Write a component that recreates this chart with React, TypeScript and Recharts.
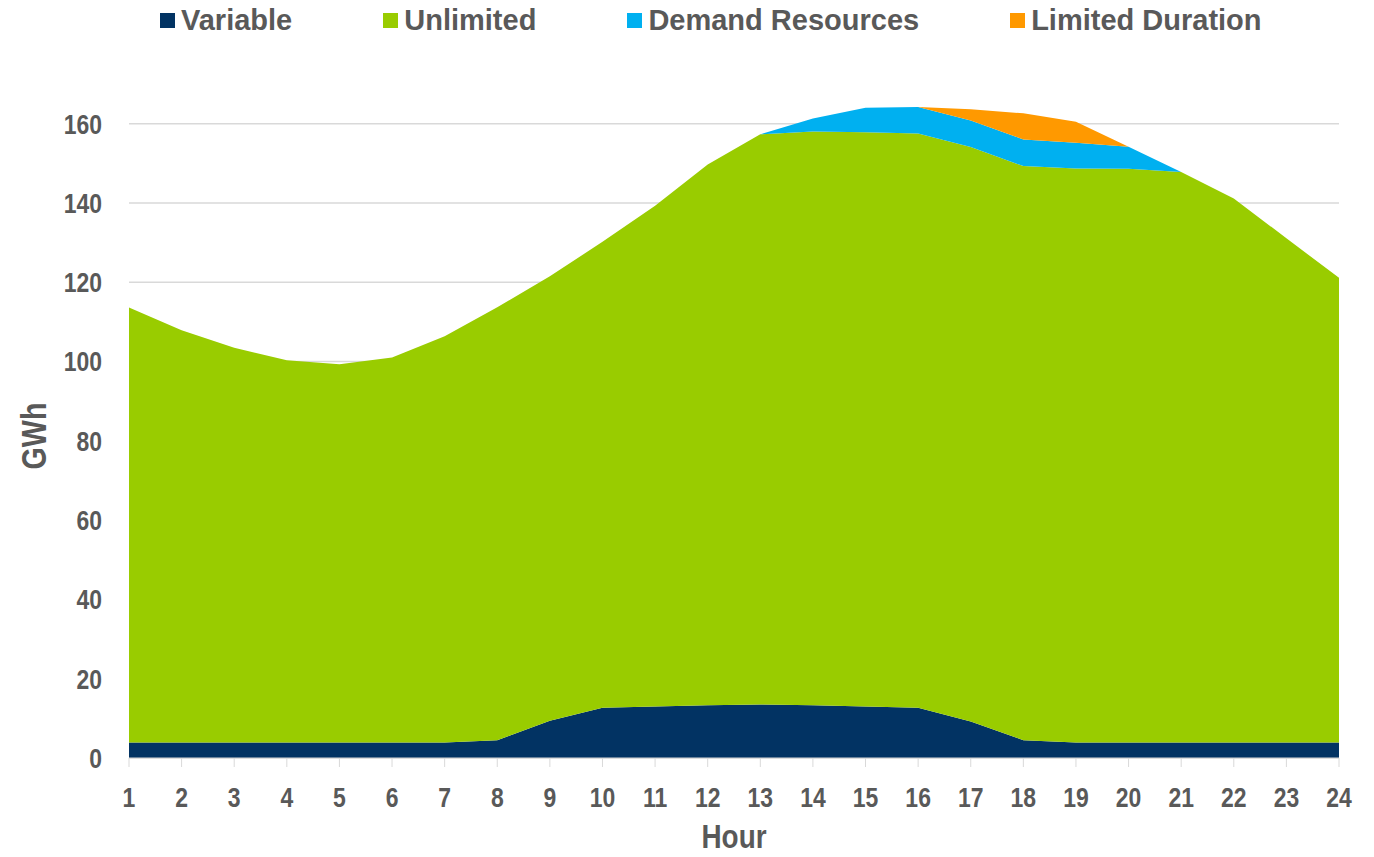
import React from 'react';
import { AreaChart, Area, XAxis, YAxis, CartesianGrid, Label } from 'recharts';

const hours = ['1', '2', '3', '4', '5', '6', '7', '8', '9', '10', '11', '12', '13', '14', '15', '16', '17', '18', '19', '20', '21', '22', '23', '24'];
const variable = [3.9, 3.9, 3.9, 3.9, 3.9, 3.9, 3.9, 4.5, 9.4, 12.7, 13.0, 13.3, 13.5, 13.3, 13.0, 12.7, 9.2, 4.5, 3.9, 3.9, 3.9, 3.9, 3.9, 3.9];
const unlimited = [109.7, 104.0, 99.6, 96.4, 95.4, 97.1, 102.5, 109.2, 112.1, 117.5, 126.3, 136.4, 143.8, 144.7, 144.8, 144.8, 144.9, 144.8, 144.8, 144.7, 143.9, 137.2, 127.2, 117.2];
const demandResources = [0, 0, 0, 0, 0, 0, 0, 0, 0, 0, 0, 0, 0, 3.3, 6.2, 6.7, 6.7, 6.7, 6.5, 5.6, 0, 0, 0, 0];
const limitedDuration = [0, 0, 0, 0, 0, 0, 0, 0, 0, 0, 0, 0, 0, 0, 0, 0, 2.8, 6.6, 5.3, 0, 0, 0, 0, 0];
const yTicks = [0, 20, 40, 60, 80, 100, 120, 140, 160];

const series = [
  { key: 'variable', name: 'Variable', color: '#023363' },
  { key: 'unlimited', name: 'Unlimited', color: '#99cc00' },
  { key: 'demand', name: 'Demand Resources', color: '#00b0f0' },
  { key: 'limited', name: 'Limited Duration', color: '#ff9900' },
];

const data = hours.map((hour, i) => ({
  hour,
  variable: variable[i],
  unlimited: unlimited[i],
  demand: demandResources[i],
  limited: limitedDuration[i],
}));

const TEXT = '#595959';
const FONT = "'Liberation Sans', Arial, sans-serif";
// no narrow font installed, so squeeze the bold face horizontally
const SQUEEZE = 0.82;

const XTick = ({ x, y, payload }: any) => (
  <g transform={`translate(${x},${y})`}>
    <text transform={`scale(${SQUEEZE},1)`} dy="0.71em" textAnchor="middle" fill={TEXT} fontSize={28} fontWeight="bold" fontFamily={FONT}>
      {payload.value}
    </text>
  </g>
);

const YTick = ({ x, y, payload }: any) => (
  <g transform={`translate(${x},${y})`}>
    <text transform={`scale(${SQUEEZE},1)`} dy="0.355em" textAnchor="end" fill={TEXT} fontSize={28} fontWeight="bold" fontFamily={FONT}>
      {payload.value}
    </text>
  </g>
);

export default function App() {
  return (
    <div style={{ position: 'relative', width: 1374, height: 857 }}>
      <style>{'body{margin:0}'}</style>
      <div
        style={{
          position: 'absolute',
          left: 160,
          top: 4,
          display: 'flex',
          gap: 91,
          fontFamily: FONT,
          fontWeight: 'bold',
          fontSize: 29,
          color: TEXT,
          zIndex: 1,
        }}
      >
        {series.map((s) => (
          <div key={s.key} style={{ display: 'flex', alignItems: 'center', gap: 6 }}>
            <span style={{ display: 'inline-block', width: 15, height: 15, background: s.color }} />
            <span>{s.name}</span>
          </div>
        ))}
      </div>
      <AreaChart width={1374} height={857} data={data} margin={{ top: 84, right: 35, left: 0, bottom: 0 }}>
        <CartesianGrid vertical={false} stroke="#d9d9d9" strokeWidth={1.5} syncWithTicks />
        <XAxis dataKey="hour" height={99} stroke="#d9d9d9" tickSize={9} tickMargin={20} tick={<XTick />} interval={0}>
          <Label
            content={() => (
              <g transform="translate(734,848)">
                <text transform={`scale(${SQUEEZE},1)`} textAnchor="middle" fill={TEXT} fontSize={34} fontWeight="bold" fontFamily={FONT}>
                  Hour
                </text>
              </g>
            )}
          />
        </XAxis>
        <YAxis
          width={129}
          domain={[0, 170]}
          ticks={yTicks}
          axisLine={false}
          tickLine={false}
          tickSize={0}
          tickMargin={27}
          tick={<YTick />}
        >
          <Label
            content={() => (
              <g transform="translate(34,436) rotate(-90)">
                <text
                  transform={`scale(${SQUEEZE},1)`}
                  textAnchor="middle"
                  dominantBaseline="central"
                  fill={TEXT}
                  fontSize={35}
                  fontWeight="bold"
                  fontFamily={FONT}
                >
                  GWh
                </text>
              </g>
            )}
          />
        </YAxis>
        {series.map((s) => (
          <Area
            key={s.key}
            type="linear"
            dataKey={s.key}
            name={s.name}
            stackId="1"
            stroke="none"
            fill={s.color}
            fillOpacity={1}
            isAnimationActive={false}
          />
        ))}
      </AreaChart>
    </div>
  );
}
